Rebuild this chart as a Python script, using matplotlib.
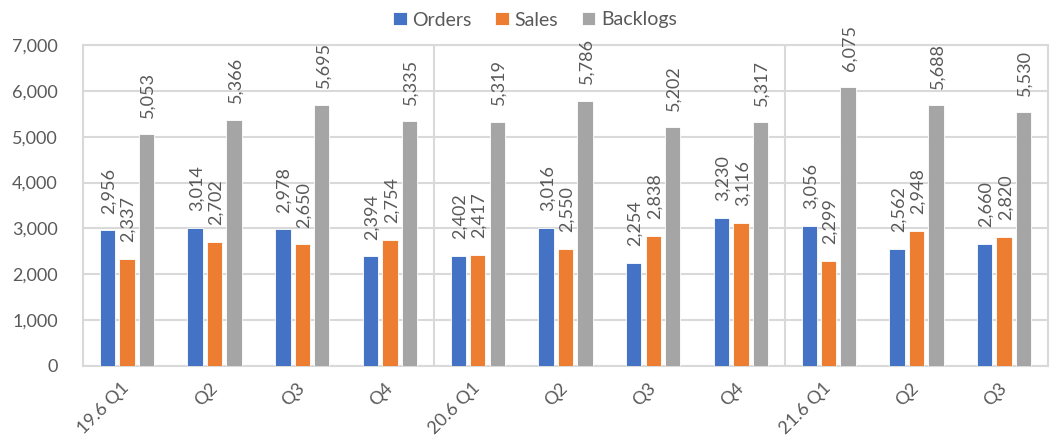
import numpy as np
import matplotlib.pyplot as plt

plt.rcParams['font.family'] = ['Lato', 'DejaVu Sans']

quarters = ['19.6 Q1', 'Q2', 'Q3', 'Q4', '20.6 Q1', 'Q2', 'Q3', 'Q4', '21.6 Q1', 'Q2', 'Q3']
orders = [2956, 3014, 2978, 2394, 2402, 3016, 2254, 3230, 3056, 2562, 2660]
sales = [2337, 2702, 2650, 2754, 2417, 2550, 2838, 3116, 2299, 2948, 2820]
backlogs = [5053, 5366, 5695, 5335, 5319, 5786, 5202, 5317, 6075, 5688, 5530]

series = [('Orders', orders, '#4472c4'),
          ('Sales', sales, '#ed7d31'),
          ('Backlogs', backlogs, '#a5a5a5')]

txt = '#595959'
grid = '#d9d9d9'

fig = plt.figure(figsize=(10.57, 4.44), dpi=100)
ax = fig.add_axes([0.0785, 0.1757, 0.913, 0.7229])

x = np.arange(len(quarters))
w = 0.175
step = 0.222
for i, (name, vals, col) in enumerate(series):
    pos = x + (i - 1) * step
    bars = ax.bar(pos, vals, width=w, color=col, edgecolor='white', linewidth=0.6,
                  label=name, zorder=3)
    for b, v in zip(bars, vals):
        ax.annotate(f'{v:,}', (b.get_x() + b.get_width() / 2, v),
                    xytext=(1, 12), textcoords='offset points',
                    rotation=90, ha='center', va='bottom',
                    fontsize=13, color=txt, annotation_clip=False)

ax.set_xlim(-0.5, len(quarters) - 0.5)
ax.set_ylim(0, 7000)
ax.set_yticks(range(0, 7001, 1000))
ax.set_yticklabels([f'{v:,}' for v in range(0, 7001, 1000)])
ax.set_xticks(x)
ax.set_xticklabels(quarters, rotation=45, ha='right', va='center', rotation_mode='anchor')
ax.tick_params(axis='both', length=0, labelsize=13, colors=txt)
ax.tick_params(axis='y', pad=18)
ax.tick_params(axis='x', pad=14)
for lbl in ax.get_xticklabels():
    lbl.set_x(lbl.get_position()[0])

ax.grid(axis='y', color=grid, linewidth=1.5, zorder=0)
for sep in [3.5, 7.5]:
    ax.axvline(sep, color=grid, linewidth=1.5, zorder=1)
for s in ax.spines.values():
    s.set_color(grid)
    s.set_linewidth(1.5)

fig.legend(loc='center', bbox_to_anchor=(535 / 1057, 1 - 20 / 444), ncol=3,
           frameon=False, fontsize=14, handlelength=0.7, handleheight=0.7,
           handletextpad=0.3, columnspacing=1.2, labelcolor=txt)

fig.savefig('out.png', dpi=100)
